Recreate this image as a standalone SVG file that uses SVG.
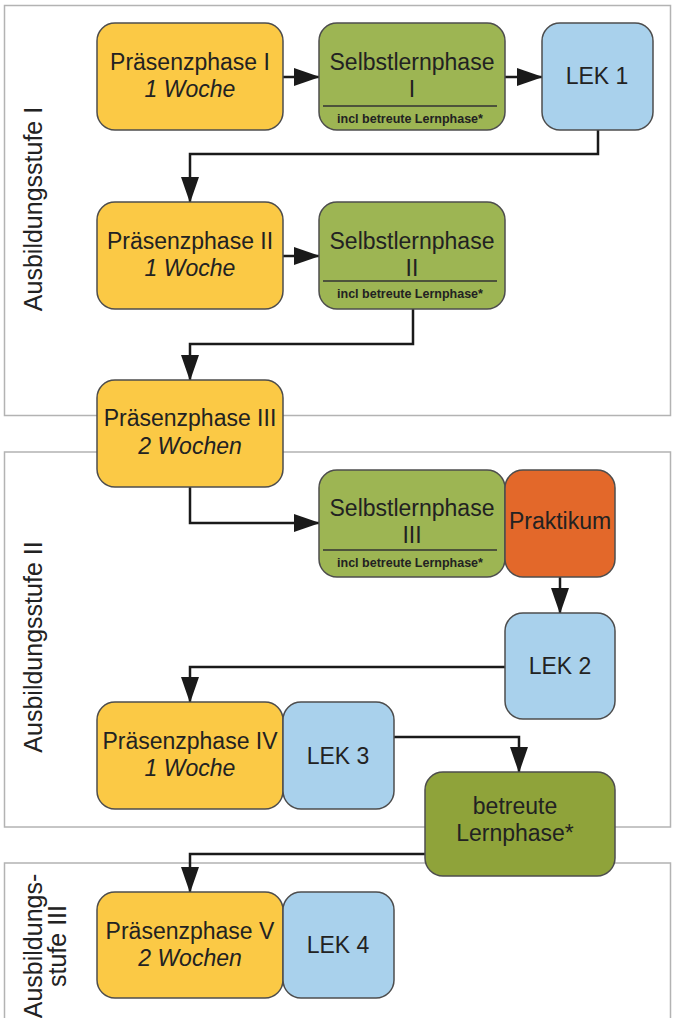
<svg xmlns="http://www.w3.org/2000/svg" width="675" height="1018" viewBox="0 0 675 1018">
<defs>
<marker id="ah" markerUnits="userSpaceOnUse" markerWidth="26" markerHeight="18" refX="25" refY="9" orient="auto">
<path d="M0,0 L26,9 L0,18 z" fill="#1a1a1a"/>
</marker>
<style>
.frame{fill:none;stroke:#b3b3b3;stroke-width:1.5}
.box{stroke:#4d4d4d;stroke-width:1.5}
.pp{fill:#fbc945}
.slp{fill:#9db553}
.bl{fill:#8fa33a}
.lek{fill:#a9d1ec}
.pr{fill:#e3682a}
.t{font-family:"Liberation Sans",Arial,sans-serif;font-size:23px;fill:#222;text-anchor:middle}
.i{font-style:italic}
.s{font-family:"Liberation Sans",Arial,sans-serif;font-size:12.5px;font-weight:bold;fill:#222;text-anchor:middle}
.div{stroke:#333;stroke-width:1.5}
.lab{font-family:"Liberation Sans",Arial,sans-serif;font-size:25px;fill:#222;text-anchor:middle}
.c{fill:none;stroke:#1a1a1a;stroke-width:2.5;marker-end:url(#ah)}
</style>
</defs>
<rect width="675" height="1018" fill="#fff"/>
<g id="frames">
<rect class="frame" x="4.5" y="5.5" width="666" height="410"/>
<rect class="frame" x="4.5" y="452" width="666" height="375"/>
<rect class="frame" x="4.5" y="863" width="666" height="170"/>
</g>
<g id="labels">
<text class="lab" transform="translate(42,209) rotate(-90)">Ausbildungsstufe I</text>
<text class="lab" transform="translate(42,647) rotate(-90)">Ausbildungsstufe II</text>
<text class="lab" transform="translate(42,946) rotate(-90)">Ausbildungs-</text>
<text class="lab" transform="translate(66,946) rotate(-90)">stufe III</text>
</g>
<g id="connectors">
<path class="c" d="M283,77 H319"/>
<path class="c" d="M505,77 H542"/>
<path class="c" d="M598,130 V154 H190 V202"/>
<path class="c" d="M283,256 H319"/>
<path class="c" d="M413,309 V344 H190 V380"/>
<path class="c" d="M190,487 V523 H319"/>
<path class="c" d="M560,577 V613"/>
<path class="c" d="M505,667 H190 V702"/>
<path class="c" d="M394,737 H519 V772"/>
<path class="c" d="M425,854 H190 V892"/>
</g>
<g id="pp1">
<rect class="box pp" x="97" y="23" width="186" height="107" rx="18"/>
<text class="t" x="190" y="70">Präsenzphase I</text>
<text class="t i" x="190" y="97">1 Woche</text>
</g>
<g id="slp1">
<rect class="box slp" x="319" y="23" width="186" height="107" rx="18"/>
<text class="t" x="412" y="70">Selbstlernphase</text>
<text class="t" x="412" y="97">I</text>
<line class="div" x1="323" y1="106" x2="497" y2="106"/>
<text class="s" x="410" y="123">incl betreute Lernphase*</text>
</g>
<g id="lek1">
<rect class="box lek" x="542" y="23" width="111" height="107" rx="18"/>
<text class="t" x="597" y="84">LEK 1</text>
</g>
<g id="pp2">
<rect class="box pp" x="97" y="202" width="186" height="107" rx="18"/>
<text class="t" x="190" y="249">Präsenzphase II</text>
<text class="t i" x="190" y="276">1 Woche</text>
</g>
<g id="slp2">
<rect class="box slp" x="319" y="202" width="186" height="107" rx="18"/>
<text class="t" x="412" y="249">Selbstlernphase</text>
<text class="t" x="412" y="276">II</text>
<line class="div" x1="323" y1="281" x2="497" y2="281"/>
<text class="s" x="410" y="298">incl betreute Lernphase*</text>
</g>
<g id="pp3">
<rect class="box pp" x="97" y="380" width="186" height="107" rx="18"/>
<text class="t" x="190" y="426">Präsenzphase III</text>
<text class="t i" x="190" y="454">2 Wochen</text>
</g>
<g id="slp3">
<rect class="box slp" x="319" y="470" width="186" height="107" rx="18"/>
<text class="t" x="412" y="516">Selbstlernphase</text>
<text class="t" x="412" y="543">III</text>
<line class="div" x1="323" y1="550" x2="497" y2="550"/>
<text class="s" x="410" y="567">incl betreute Lernphase*</text>
</g>
<g id="praktikum">
<rect class="box pr" x="505" y="470" width="110" height="107" rx="18"/>
<text class="t" x="560" y="529">Praktikum</text>
</g>
<g id="lek2">
<rect class="box lek" x="505" y="613" width="110" height="106" rx="18"/>
<text class="t" x="560" y="674">LEK 2</text>
</g>
<g id="pp4">
<rect class="box pp" x="97" y="702" width="186" height="107" rx="18"/>
<text class="t" x="190" y="749">Präsenzphase IV</text>
<text class="t i" x="190" y="776">1 Woche</text>
</g>
<g id="lek3">
<rect class="box lek" x="283" y="702" width="111" height="107" rx="18"/>
<text class="t" x="338" y="764">LEK 3</text>
</g>
<g id="betreut">
<rect class="box bl" x="425" y="772" width="190" height="104" rx="18"/>
<text class="t" x="515" y="814">betreute</text>
<text class="t" x="515" y="841">Lernphase*</text>
</g>
<g id="pp5">
<rect class="box pp" x="97" y="892" width="186" height="106" rx="18"/>
<text class="t" x="190" y="939">Präsenzphase V</text>
<text class="t i" x="190" y="966">2 Wochen</text>
</g>
<g id="lek4">
<rect class="box lek" x="283" y="892" width="111" height="106" rx="18"/>
<text class="t" x="338" y="953">LEK 4</text>
</g>
</svg>
